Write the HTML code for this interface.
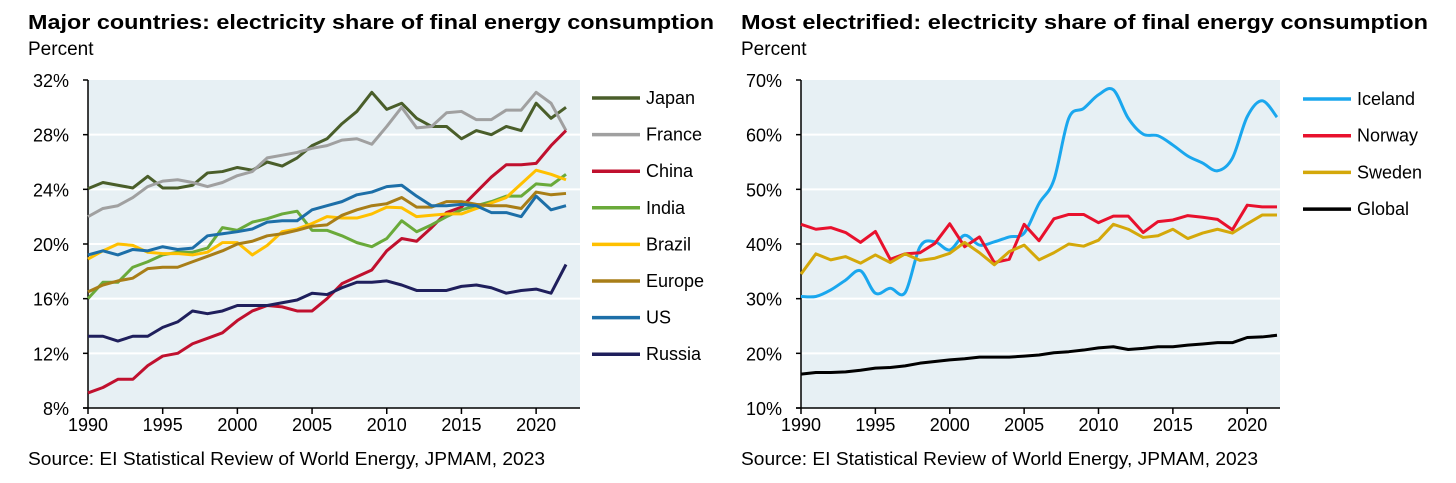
<!DOCTYPE html>
<html><head><meta charset="utf-8"><style>
html,body{margin:0;padding:0;background:#fff;}
svg{display:block;font-family:"Liberation Sans",Arial,sans-serif;}
</style></head><body>
<svg id="c" width="1456" height="483" viewBox="0 0 1456 483">
<text x="28" y="29" font-size="20" font-weight="bold" textLength="686" lengthAdjust="spacingAndGlyphs">Major countries: electricity share of final energy consumption</text>
<text x="28" y="55" font-size="19">Percent</text>
<text x="741" y="29" font-size="20" font-weight="bold" textLength="687" lengthAdjust="spacingAndGlyphs">Most electrified: electricity share of final energy consumption</text>
<text x="741" y="55" font-size="19">Percent</text>
<text x="28" y="465" font-size="18" textLength="517" lengthAdjust="spacingAndGlyphs">Source: EI Statistical Review of World Energy, JPMAM, 2023</text>
<text x="741" y="465" font-size="18" textLength="517" lengthAdjust="spacingAndGlyphs">Source: EI Statistical Review of World Energy, JPMAM, 2023</text>
</svg>
<script>
const years = [];for(let y=1990;y<=2022;y++)years.push(y);
const leftNames = ["Japan","France","China","India","Brazil","Europe","US","Russia"];
const leftColors = ["#4a5e2a","#a0a0a0","#c0102e","#6aaa3a","#ffc000","#a87e18","#1d6fa8","#1f1f5c"];
const japan = [24.05,24.5,24.3,24.1,24.95,24.1,24.1,24.3,25.2,25.3,25.6,25.4,26.0,25.7,26.3,27.2,27.7,28.8,29.7,31.1,29.85,30.3,29.2,28.6,28.6,27.7,28.3,28.0,28.6,28.3,30.3,29.2,30.0];
const france = [22.0,22.6,22.8,23.4,24.2,24.6,24.7,24.5,24.2,24.5,25.0,25.3,26.3,26.5,26.7,27.0,27.2,27.6,27.7,27.3,28.6,30.0,28.5,28.6,29.6,29.7,29.1,29.1,29.8,29.8,31.1,30.3,28.3];
const china = [9.1,9.5,10.1,10.1,11.1,11.8,12.0,12.7,13.1,13.5,14.4,15.1,15.5,15.4,15.1,15.1,16.0,17.1,17.6,18.1,19.5,20.4,20.2,21.2,22.3,22.7,23.8,24.9,25.8,25.8,25.9,27.2,28.3];
const india = [16.0,17.2,17.2,18.3,18.7,19.2,19.4,19.4,19.7,21.2,21.0,21.6,21.85,22.2,22.4,21.0,21.0,20.6,20.1,19.8,20.4,21.7,20.9,21.4,22.0,22.5,22.8,23.1,23.5,23.5,24.4,24.3,25.1];
const brazil = [18.9,19.5,20.0,19.9,19.4,19.3,19.3,19.2,19.4,20.1,20.1,19.2,19.9,20.9,21.1,21.5,22.0,21.9,21.9,22.2,22.7,22.65,22.0,22.1,22.2,22.2,22.6,23.0,23.4,24.4,25.4,25.1,24.7];
const europe = [16.5,17.0,17.3,17.5,18.2,18.3,18.3,18.7,19.1,19.5,20.0,20.2,20.6,20.75,21.0,21.3,21.4,22.1,22.5,22.8,22.95,23.4,22.7,22.7,23.1,23.1,22.9,22.8,22.8,22.6,23.8,23.6,23.7];
const us = [19.2,19.5,19.2,19.6,19.5,19.8,19.6,19.7,20.6,20.75,20.9,21.1,21.6,21.7,21.7,22.5,22.8,23.1,23.6,23.8,24.2,24.3,23.5,22.8,22.8,22.9,22.8,22.3,22.3,22.0,23.5,22.5,22.8];
const russia = [13.25,13.25,12.9,13.25,13.25,13.9,14.3,15.1,14.9,15.1,15.5,15.5,15.5,15.7,15.9,16.4,16.3,16.8,17.2,17.2,17.3,17.0,16.6,16.6,16.6,16.9,17.0,16.8,16.4,16.6,16.7,16.4,18.5];
const leftTicks = [8,12,16,20,24,28,32];
const rightNames = ["Iceland","Norway","Sweden","Global"];
const rightColors = ["#1aa7ee","#e8112d","#d4a80a","#000000"];
const iceland = [30.4,30.4,31.6,33.4,35.1,31.0,31.9,31.1,39.5,40.4,38.9,41.6,39.8,40.4,41.3,42.0,47.4,51.7,63.0,64.8,67.3,68.2,63.0,60.1,59.8,58.1,56.1,54.8,53.4,55.7,63.3,66.2,63.2];
const norway = [43.6,42.7,43.0,42.1,40.3,42.3,37.2,38.2,38.4,40.1,43.7,39.5,41.3,36.6,37.2,43.6,40.6,44.6,45.4,45.4,43.9,45.1,45.1,42.1,44.1,44.4,45.2,44.9,44.5,42.6,47.1,46.8,46.8];
const sweden = [34.5,38.2,37.1,37.7,36.5,38.0,36.6,38.2,37.0,37.4,38.3,40.3,38.4,36.2,38.6,39.8,37.1,38.4,40.0,39.6,40.7,43.6,42.7,41.2,41.5,42.7,41.0,42.0,42.7,42.0,43.7,45.3,45.3];
const global = [16.2,16.5,16.5,16.6,16.9,17.3,17.4,17.7,18.2,18.5,18.8,19.0,19.3,19.3,19.3,19.5,19.7,20.1,20.3,20.6,21.0,21.2,20.7,20.9,21.2,21.2,21.5,21.7,21.95,21.95,22.9,23.0,23.3];
const rightTicks = [10,20,30,40,50,60,70];
const xTicks = [1990,1995,2000,2005,2010,2015,2020];

const NS="http://www.w3.org/2000/svg";
const svg=document.getElementById('c');
function mk(tag,attrs,parent){const e=document.createElementNS(NS,tag);for(const k in attrs)e.setAttribute(k,attrs[k]);(parent||svg).appendChild(e);return e;}

function chart(cfg){
  const {x0,x1,y0,y1,bgRight,vmin,vmax,ticks,series,names,colors,smooth,legX,legY,legStep,pfx}=cfg;
  const xs=y=>x0+(y-1990)*(x1-x0)/32;
  const ys=v=>y1-(v-vmin)*(y1-y0)/(vmax-vmin);
  const g=mk('g',{});
  
  
  const bg=mk('rect',{x:x0,y:y0,width:bgRight-x0,height:y1-y0,fill:'#e7f0f4'},g);
  
  
  ticks.forEach(t=>{
    const yy=ys(t);
    if(t!==vmin&&t!==vmax){const l=mk('line',{x1:x0,x2:bgRight,y1:yy,y2:yy,stroke:'#fff','stroke-width':2},g);
      
      }
    mk('line',{x1:x0-5,x2:x0,y1:yy,y2:yy,stroke:'#000','stroke-width':1.5},g);
    const tx=mk('text',{x:x0-19,y:yy+7,'font-size':18,'text-anchor':'end'},g);
    tx.textContent=t+'%';
    
    
  });
  const ya=mk('line',{x1:x0,x2:x0,y1:y0,y2:y1,stroke:'#000','stroke-width':1.5},g);
  
  
  const xa=mk('line',{x1:x0-5,x2:bgRight,y1:y1,y2:y1,stroke:'#000','stroke-width':1.5},g);
  
  
  xTicks.forEach(t=>{
    const xx=xs(t);
    mk('line',{x1:xx,x2:xx,y1:y1,y2:y1+6,stroke:'#000','stroke-width':1.5},g);
    const tx=mk('text',{x:xx,y:y1+23,'font-size':18,'text-anchor':'middle'},g);
    tx.textContent=t;
    
    
  });
  series.forEach((s,i)=>{
    const pts=s.map((v,j)=>[xs(years[j]),ys(v)]);
    let d;
    if(smooth&&i===0){
      d='M'+pts[0][0]+','+pts[0][1];
      for(let j=0;j<pts.length-1;j++){
        const p0=pts[Math.max(0,j-1)],p1=pts[j],p2=pts[j+1],p3=pts[Math.min(pts.length-1,j+2)];
        const c1=[p1[0]+(p2[0]-p0[0])/6,p1[1]+(p2[1]-p0[1])/6];
        const c2=[p2[0]-(p3[0]-p1[0])/6,p2[1]-(p3[1]-p1[1])/6];
        d+=' C'+c1[0]+','+c1[1]+' '+c2[0]+','+c2[1]+' '+p2[0]+','+p2[1];
      }
    } else d='M'+pts.map(p=>p[0]+','+p[1]).join(' L');
    const p=mk('path',{d:d,fill:'none',stroke:colors[i],'stroke-width':3,'stroke-linejoin':'round'},g);
    
    
    const ly=legY+i*legStep;
    const ll=mk('line',{x1:legX,x2:legX+48,y1:ly,y2:ly,stroke:colors[i],'stroke-width':3.5},g);
    
    
    const lt=mk('text',{x:legX+54,y:ly+6,'font-size':18},g);
    lt.textContent=names[i];
    
    
  });
}
chart({x0:88,x1:566,y0:80,y1:408,bgRight:580,vmin:8,vmax:32,ticks:leftTicks,
  series:[japan,france,china,india,brazil,europe,us,russia],names:leftNames,colors:leftColors,
  smooth:false,legX:592,legY:98,legStep:36.6,pfx:'left'});
chart({x0:801,x1:1277,y0:80,y1:408,bgRight:1280,vmin:10,vmax:70,ticks:rightTicks,
  series:[iceland,norway,sweden,global],names:rightNames,colors:rightColors,
  smooth:true,legX:1303,legY:99,legStep:36.7,pfx:'right'});
</script>
</body></html>
